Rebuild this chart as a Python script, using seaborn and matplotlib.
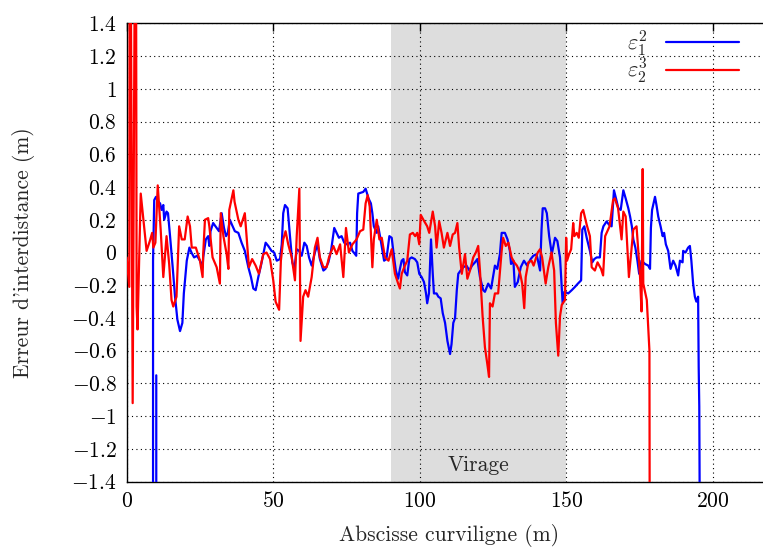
import pandas as pd
import numpy as np
import seaborn as sns
import matplotlib.pyplot as plt
from matplotlib.ticker import FuncFormatter, MultipleLocator

# Données -----------------------------------------------------------------

abscisse_e21 = [10.1, 10.1, 9.0, 9.0, 9.4, 10.0, 10.8, 11.4, 11.9, 12.5, 12.8, 13.6, 14.1,
                14.8, 15.7, 16.5, 17.3, 18.2, 19.0, 19.5, 20.5, 21.4, 22.1, 23.0, 24.0,
                25.0, 25.9, 26.1, 27.0, 27.8, 28.2, 28.6, 29.5, 30.7, 31.5, 32.4, 33.2,
                33.9, 34.5, 35.2, 35.9, 36.9, 38.1, 39.2, 40.3, 41.5, 42.4, 43.2, 44.0,
                44.9, 45.8, 46.6, 47.4, 48.3, 49.4, 50.3, 51.2, 52.3, 52.9, 53.4, 54.0,
                54.9, 55.7, 56.5, 57.2, 58.0, 58.8, 59.7, 60.6, 61.4, 62.2, 63.1, 64.2,
                65.1, 65.9, 67.1, 67.8, 68.8, 69.7, 70.8, 71.6, 72.4, 73.3, 74.2, 75.1,
                76.2, 77.0, 77.9, 78.3, 78.6, 79.0, 80.7, 81.5, 82.5, 83.3, 83.8, 84.3,
                85.3, 85.8, 86.6, 87.8, 88.6, 89.6, 90.4, 91.2, 91.8, 92.6, 93.2, 93.8,
                94.4, 94.9, 95.7, 96.4, 97.2, 98.3, 99.1, 99.8, 100.6, 101.4, 102.1,
                102.5, 103.1, 103.8, 104.4, 104.8, 105.7, 106.3, 107.1, 107.8, 108.6,
                109.4, 110.3, 110.8, 111.4, 112.0, 112.6, 113.1, 113.9, 114.8, 115.9,
                116.9, 117.8, 118.8, 119.6, 120.5, 121.6, 122.2, 123.3, 124.3, 125.6,
                126.4, 127.3, 127.9, 129.0, 129.9, 130.7, 131.1, 131.9, 132.4, 133.4,
                134.4, 135.5, 136.6, 137.8, 138.7, 139.8, 141.0, 141.5, 141.9, 142.7,
                143.3, 144.1, 145.0, 146.1, 146.9, 147.8, 148.4, 148.7, 149.3, 150.6,
                151.8, 152.9, 153.9, 155.0, 155.4, 156.1, 156.9, 158.0, 158.8, 159.5,
                160.3, 161.4, 162.0, 162.6, 163.7, 164.5, 165.4, 166.2, 166.9, 167.7,
                168.5, 169.4, 170.2, 171.1, 171.7, 172.3, 172.8, 173.5, 174.2, 174.8,
                175.6, 176.8, 177.9, 178.5, 178.8, 179.2, 180.2, 180.7, 181.3, 182.1,
                182.8, 183.3, 183.9, 184.7, 185.5, 186.4, 187.2, 188.1, 188.7, 189.6,
                189.8, 190.6, 191.5, 192.1, 192.6, 193.2, 193.8, 194.3, 194.9, 195.1,
                195.3, 195.8]
erreur_e21 = [-0.75, -3.0, -3.0, -0.05, 0.32, 0.34, 0.31, 0.30, 0.26, 0.29, 0.20, 0.25, 0.24,
              0.10, -0.09, -0.27, -0.41, -0.48, -0.43, -0.25, -0.05, 0.03, 0.00, -0.03, -0.02,
              -0.05, -0.09, -0.03, 0.08, 0.10, 0.04, 0.13, 0.18, 0.15, 0.13, 0.24, 0.15,
              0.10, 0.12, 0.20, 0.17, 0.13, 0.12, 0.06, 0.01, -0.09, -0.15, -0.22, -0.23,
              -0.15, -0.08, -0.01, 0.06, 0.04, 0.01, 0.00, -0.05, -0.04, 0.05, 0.24, 0.29,
              0.27, 0.10, -0.06, -0.10, 0.02, 0.01, -0.02, 0.06, 0.04, -0.03, -0.08, 0.00,
              0.05, -0.04, -0.11, -0.10, -0.06, 0.01, 0.15, 0.12, 0.09, 0.10, 0.06, 0.05,
              0.06, 0.01, -0.01, -0.02, 0.24, 0.36, 0.37, 0.39, 0.33, 0.30, 0.24, 0.16,
              0.12, 0.16, 0.08, -0.05, -0.04, 0.10, 0.09, -0.03, -0.11, -0.16, -0.10, -0.05,
              -0.04, -0.12, -0.14, -0.04, -0.03, -0.04, -0.06, -0.13, -0.15, -0.18, -0.25,
              -0.31, -0.25, 0.08, -0.13, -0.25, -0.25, -0.27, -0.28, -0.37, -0.43,
              -0.54, -0.62, -0.56, -0.43, -0.40, -0.23, -0.13, -0.11, -0.09, -0.08,
              -0.11, -0.08, -0.06, -0.04, -0.15, -0.23, -0.24, -0.19, -0.22, -0.08,
              -0.10, -0.01, 0.12, 0.12, 0.08, 0.01, -0.07, -0.05, -0.21, -0.18,
              -0.09, -0.05, -0.08, -0.04, -0.02, -0.01, -0.11, 0.14, 0.27, 0.27,
              0.24, 0.10, -0.01, 0.09, 0.07, -0.03, -0.21, -0.31, -0.24, -0.25,
              -0.23, -0.21, -0.19, -0.17, 0.14, 0.16, 0.09, 0.01, -0.06, -0.04,
              -0.03, -0.03, 0.12, 0.16, 0.19, 0.17, 0.16, 0.38, 0.33, 0.27,
              0.26, 0.38, 0.33, 0.27, 0.22, 0.16, 0.08, 0.03, -0.05, -0.13,
              -0.05, -0.07, -0.08, -0.10, 0.15, 0.26, 0.34, 0.29, 0.22, 0.16,
              0.10, 0.12, 0.05, 0.01, -0.10, -0.05, -0.08, -0.14, -0.05, -0.06,
              0.01, 0.00, 0.03, 0.04, -0.05, -0.19, -0.27, -0.30, -0.27, -0.70,
              -0.94, -3.0]

abscisse_e32 = [0.0, 0.9, 1.1, 2.05, 3.1, 3.4, 3.7, 4.8, 6.8, 7.9, 8.7, 9.1, 9.8, 10.6,
                11.6, 12.5, 13.6, 14.5, 15.3, 15.9, 17.0, 17.9, 18.8, 19.8, 20.8, 21.6,
                22.2, 23.6, 25.0, 25.9, 26.1, 26.7, 27.8, 28.2, 29.3, 30.7, 31.8, 32.1,
                33.0, 34.1, 34.7, 35.0, 36.4, 36.8, 38.1, 38.9, 40.3, 40.9, 41.7, 42.8,
                44.0, 45.1, 46.6, 47.7, 48.9, 50.0, 50.8, 52.0, 52.6, 53.4, 54.2, 55.1,
                56.3, 57.4, 58.0, 58.9, 59.3, 60.2, 61.0, 61.9, 63.1, 64.2, 65.1, 65.9,
                67.1, 68.2, 69.0, 70.5, 71.6, 72.8, 73.9, 74.8, 75.8, 77.0, 78.4, 79.6,
                80.7, 81.5, 82.2, 82.9, 83.8, 84.3, 85.3, 86.2, 87.0, 88.1, 89.3, 90.4,
                91.5, 92.6, 93.2, 93.8, 94.9, 95.7, 96.6, 97.6, 98.4, 99.1, 99.8, 100.3,
                101.2, 102.5, 103.2, 104.4, 105.2, 105.7, 106.6, 107.4, 108.2, 109.4,
                110.3, 111.2, 112.0, 112.8, 113.4, 114.3, 115.4, 116.2, 117.1, 118.2,
                119.1, 119.9, 120.5, 121.4, 122.2, 123.0, 123.6, 123.9, 124.8, 125.6,
                126.7, 127.9, 128.4, 129.3, 130.2, 131.3, 132.2, 133.1, 134.1, 134.9,
                135.6, 136.1, 137.0, 138.1, 138.8, 139.5, 140.2, 141.0, 141.7, 142.9,
                143.8, 144.9, 145.8, 146.4, 147.2, 147.8, 148.4, 149.5, 149.9, 150.2,
                150.9, 151.6, 152.3, 152.7, 153.5, 154.2, 155.0, 155.7, 156.9, 158.0,
                158.6, 159.7, 160.6, 161.8, 162.5, 163.2, 164.7, 165.9, 166.5, 167.6,
                168.8, 169.4, 170.2, 171.3, 172.8, 173.9, 174.5, 175.1, 175.6, 176.0,
                176.2, 177.4, 178.3, 178.5]
erreur_e32 = [-0.03, -0.21, 3.0, -0.92, 3.0, -0.33, -0.47, 0.36, 0.01, 0.07, 0.12, 0.03, 0.06, 0.41,
              0.14, -0.15, 0.10, -0.07, -0.29, -0.33, -0.27, 0.16, 0.08, 0.08, 0.22, 0.16,
              0.03, 0.03, -0.05, -0.15, -0.01, 0.20, 0.21, 0.16, -0.03, -0.09, -0.19, 0.24,
              0.10, -0.01, -0.10, 0.26, 0.38, 0.31, 0.20, 0.16, 0.24, 0.10, -0.09, -0.04,
              -0.08, -0.13, -0.01, 0.00, -0.04, -0.17, -0.30, -0.35, -0.05, 0.08, 0.13, 0.05,
              -0.03, -0.17, 0.10, 0.39, -0.54, -0.27, -0.23, -0.27, -0.15, 0.03, 0.09, -0.03,
              -0.09, -0.09, -0.03, 0.04, -0.01, 0.05, -0.15, 0.15, 0.00, 0.05, 0.08, 0.13,
              0.14, 0.30, 0.35, 0.28, -0.09, 0.08, 0.20, 0.08, 0.09, -0.03, -0.05, 0.02,
              -0.13, -0.19, -0.22, -0.13, -0.08, -0.05, 0.11, 0.12, 0.10, 0.12, 0.05, 0.23,
              0.20, 0.16, 0.12, 0.25, 0.16, 0.03, 0.19, 0.12, 0.03, 0.12,
              0.04, 0.11, 0.12, 0.18, 0.03, -0.13, -0.01, -0.16, -0.11, -0.03,
              0.00, 0.04, -0.11, -0.39, -0.58, -0.68, -0.76, -0.31, -0.33, -0.25,
              -0.25, 0.01, 0.09, 0.04, 0.06, -0.03, -0.06, -0.08, -0.12, -0.19,
              -0.34, -0.15, -0.06, -0.05, -0.08, -0.04, 0.00, 0.02, -0.03, -0.19,
              -0.09, 0.00, -0.11, -0.43, -0.63, -0.39, -0.32, -0.29, 0.09, -0.05,
              -0.01, 0.02, 0.18, 0.10, 0.12, 0.09, 0.24, 0.26, 0.17, 0.10,
              -0.09, -0.11, -0.06, -0.10, -0.14, 0.10, 0.16, 0.32, 0.33, 0.27,
              0.08, 0.25, 0.22, -0.15, 0.14, 0.16, 0.01, -0.15, -0.36, 0.51,
              -0.19, -0.29, -0.60, -3.0]

virage = (90, 150)

# Figure ------------------------------------------------------------------

sns.set_theme(style="white")
plt.rcParams["font.family"] = ["cmr10", "DejaVu Serif"]
plt.rcParams["mathtext.fontset"] = "cm"
plt.rcParams["axes.formatter.use_mathtext"] = True
plt.rcParams["axes.unicode_minus"] = False

fig = plt.figure(figsize=(7.63, 5.56), dpi=100)
ax = fig.add_axes([0.166, 0.1336, 0.8454, 0.8245])

ax.axvspan(*virage, color="#dddddd", lw=0, zorder=0)

df1 = pd.DataFrame({"s": abscisse_e21, "e": erreur_e21})
df2 = pd.DataFrame({"s": abscisse_e32, "e": erreur_e32})
sns.lineplot(data=df1, x="s", y="e", sort=False, estimator=None, color="#0000ff",
             lw=1.6, ax=ax, label=r"$\varepsilon_1^2$", zorder=3)
sns.lineplot(data=df2, x="s", y="e", sort=False, estimator=None, color="#ff0000",
             lw=1.6, ax=ax, label=r"$\varepsilon_2^3$", zorder=3)

ax.set_xlim(0, 220)
ax.set_ylim(-1.4, 1.4)
ax.xaxis.set_major_locator(MultipleLocator(50))
ax.yaxis.set_major_locator(MultipleLocator(0.2))
fmt = FuncFormatter(lambda v, p: "$%g$" % round(v, 2))
ax.xaxis.set_major_formatter(fmt)
ax.yaxis.set_major_formatter(fmt)
ax.tick_params(direction="in", length=6, width=1, top=True, right=True,
               labelsize=15.5, colors="black", pad=7)
ax.grid(True, color="black", linestyle=(0, (1, 3)), lw=0.8, zorder=1)
ax.set_axisbelow(False)
for sp in ax.spines.values():
    sp.set_color("black")
    sp.set_linewidth(1.0)

ax.set_xlabel("Abscisse curviligne (m)", fontsize=15.5, labelpad=9)
ax.set_ylabel("Erreur d'interdistance (m)", fontsize=15.5, labelpad=26)
ax.text(120, -1.3, "Virage", ha="center", va="center", fontsize=15.5)

ax.legend(loc="upper right", bbox_to_anchor=(0.995, 0.985), bbox_transform=fig.transFigure,
          frameon=False, markerfirst=False, handlelength=3.3, fontsize=16,
          labelspacing=-0.1, handletextpad=0.8)

plt.savefig("out.png", dpi=100)
